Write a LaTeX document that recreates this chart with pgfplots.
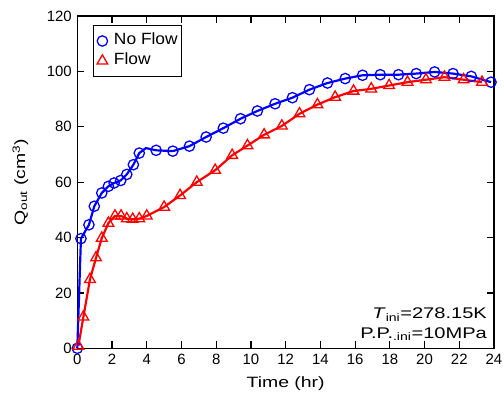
\documentclass[border=0pt]{standalone}
\usepackage{fontspec}
\setmainfont{Liberation Sans}
\newfontfamily\widefont[FakeStretch=1.3]{Liberation Sans}
\newfontfamily\legfont[FakeStretch=1.07]{Liberation Sans}
\usepackage{pgfplots}
\pgfplotsset{compat=1.18}
\definecolor{myblue}{RGB}{0,0,255}
\definecolor{myred}{RGB}{255,0,0}
\begin{document}
\begin{tikzpicture}
\begin{axis}[
  name=ax,
  scale only axis,
  width=416.7bp, height=332.3bp,
  xmin=0, xmax=24, ymin=0, ymax=120,
  xtick={0,2,...,24}, ytick={0,20,...,120},
  minor tick num=0,
  tick align=inside,
  major tick length=7bp,
  axis line style={line width=1.5pt},
  every tick/.style={black, line width=1.2pt},
  /pgf/number format/assume math mode=true,
  tick label style={font=\fontsize{15}{18}\selectfont},
  xticklabel style={yshift=-2bp},
  yticklabel style={xshift=-2bp},
  xlabel={Time (hr)},
  ylabel={Q\textsubscript{out} (cm\textsuperscript{3})},
  xlabel style={font=\widefont\fontsize{15}{18}\selectfont,
    at={(axis description cs:0.5,-0.1053)}, anchor=center},
  ylabel style={font=\widefont\fontsize{15}{18}\selectfont,
    at={(axis description cs:-0.1368,0.5)}, anchor=center, rotate=0},
  legend style={at={(axis description cs:0,1)}, anchor=north west,
    xshift=16bp, yshift=-9bp, draw=black, line width=1pt,
    font=\legfont\fontsize{16.3}{19}\selectfont,
    inner xsep=1.5bp, inner ysep=5.5bp, row sep=0pt,
    nodes={inner sep=2bp, text height=12bp, text depth=4bp},
    cells={anchor=west}},
  legend image code/.code={\draw[#1, only marks] plot coordinates {(0cm,0cm)}; \path (-6bp,0) (8.5bp,0);},
  clip=false,
]
\addplot[myblue, line width=2.2pt, mark=o, mark size=5.2pt,
  mark indices={1,2,3,4,5,6,7,8,9,10,11,13,14,15,16,17,18,19,20,21,22,23,24,25,26,27,28,29,30,31,32},
  mark options={solid, line width=1.3pt, fill=white}]
  coordinates {
(0,0) (0.21,39.6) (0.67,44.6) (0.98,51.3) (1.41,56.1) (1.79,58.5) (2.12,59.7)
(2.50,60.6) (2.85,62.8) (3.23,66.3) (3.57,70.5) (3.95,72.3) (4.54,71.5) (5.50,71.2)
(6.46,73.0) (7.42,76.3) (8.41,79.5) (9.40,82.9) (10.37,85.7) (11.39,88.3)
(12.39,90.5) (13.37,93.4) (14.41,95.8) (15.43,97.4) (16.43,98.6) (17.45,98.8)
(18.50,98.8) (19.52,99.2) (20.58,99.8) (21.64,99.2) (22.69,98.2) (23.83,96.1)
};
\addlegendentry{No Flow}
\addplot[myred, line width=2.2pt, mark=triangle, mark size=6.2pt,
  mark options={solid, line width=1.3pt, fill=white}]
  coordinates {
(0.06,0.8) (0.35,11.3) (0.73,24.9) (1.08,32.7) (1.41,39.8) (1.79,45.2)
(2.17,47.8) (2.52,47.8) (2.85,46.8) (3.19,46.6) (3.57,46.8) (4.0,47.8)
(5.0,51.0) (5.92,55.2) (6.88,60.0) (7.94,64.3) (8.92,69.7) (9.8,73.2)
(10.76,77.1) (11.78,80.3) (12.8,84.7) (13.83,88.0) (14.85,90.7) (15.91,92.9)
(16.93,93.7) (17.96,94.9) (19.02,96.1) (20.08,97.0) (21.15,97.9) (22.25,97.0)
(23.31,96.1)
};
\addlegendentry{Flow}
\node[anchor=base east, font=\widefont\fontsize{15.5}{18}\selectfont, inner sep=0pt]
  at (axis cs:23.6,10.9) {\textit{T}\textsubscript{ini}=278.15K};
\node[anchor=base east, font=\widefont\fontsize{15.5}{18}\selectfont, inner sep=0pt]
  at (axis cs:23.6,3.7) {P.P.\textsubscript{.ini}=10MPa};
\end{axis}
\pgfresetboundingbox
\path ([shift={(-77.3bp,-44.7bp)}]ax.south west) rectangle ([shift={(10bp,16bp)}]ax.north east);
\end{tikzpicture}
\end{document}
